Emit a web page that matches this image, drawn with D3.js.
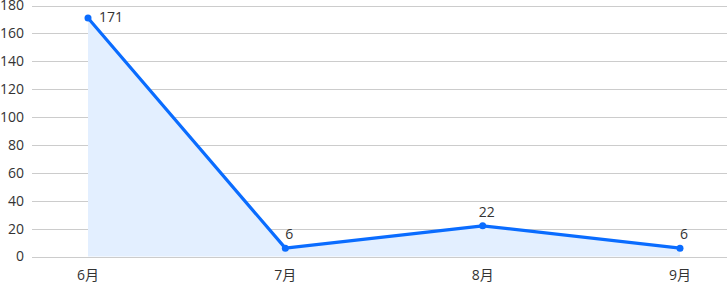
<!DOCTYPE html>
<html>
<head>
<meta charset="utf-8">
<script src="https://cdn.jsdelivr.net/npm/d3@7/dist/d3.min.js"></script>
<style>
  body { margin: 0; background: #fff; }
  svg text { font-family: "Open Sans", "Noto Sans CJK SC", sans-serif; font-size: 14px; fill: #333; }
</style>
</head>
<body>
<div id="chart"></div>
<script>
// 数据
var months = ["6月", "7月", "8月", "9月"];
var counts = [171, 6, 22, 6];
var yTicks = [0, 20, 40, 60, 80, 100, 120, 140, 160, 180];

var width = 727, height = 283;

var svg = d3.select("#chart").append("svg")
  .attr("width", width)
  .attr("height", height);

var xScale = d3.scalePoint()
  .domain(months)
  .range([88, 680]);

var yScale = d3.scaleLinear()
  .domain([0, 180])
  .range([256.5, 5.5]);

// 网格线
svg.append("g").selectAll("line")
  .data(yTicks)
  .enter()
  .append("line")
  .attr("x1", 32)
  .attr("x2", width)
  .attr("y1", function(d) { return Math.round(yScale(d)) + 0.5; })
  .attr("y2", function(d) { return Math.round(yScale(d)) + 0.5; })
  .attr("stroke", "#ccc")
  .attr("stroke-width", 1);

// y轴标签
svg.append("g").selectAll("text")
  .data(yTicks)
  .enter()
  .append("text")
  .attr("x", 24)
  .attr("y", function(d) { return yScale(d); })
  .attr("dy", "0.35em")
  .attr("text-anchor", "end")
  .text(function(d) { return d; });

// x轴标签
svg.append("g").selectAll("text")
  .data(months)
  .enter()
  .append("text")
  .attr("x", function(d) { return xScale(d); })
  .attr("y", 280)
  .attr("text-anchor", "middle")
  .text(function(d) { return d; });

var pts = months.map(function(m, i) { return { m: m, v: counts[i] }; });

// 面积
var area = d3.area()
  .x(function(d) { return xScale(d.m); })
  .y0(yScale(0))
  .y1(function(d) { return yScale(d.v); });

svg.append("path")
  .datum(pts)
  .attr("d", area)
  .attr("fill", "#e3efff");

// 折线
var line = d3.line()
  .x(function(d) { return xScale(d.m); })
  .y(function(d) { return yScale(d.v); });

svg.append("path")
  .datum(pts)
  .attr("d", line)
  .attr("fill", "none")
  .attr("stroke", "#0a6cff")
  .attr("stroke-width", 3.2)
  .attr("stroke-linejoin", "round");

svg.append("g").selectAll("circle")
  .data(pts)
  .enter()
  .append("circle")
  .attr("cx", function(d) { return xScale(d.m); })
  .attr("cy", function(d) { return yScale(d.v); })
  .attr("r", 3.5)
  .attr("fill", "#0a6cff");

// 数值标签
svg.append("g").selectAll("text")
  .data(pts)
  .enter()
  .append("text")
  .attr("x", function(d, i) { return i === 0 ? xScale(d.m) + 11 : xScale(d.m) + 4; })
  .attr("y", function(d, i) { return i === 0 ? yScale(d.v) + 4 : yScale(d.v) - 9; })
  .attr("text-anchor", function(d, i) { return i === 0 ? "start" : "middle"; })
  .text(function(d) { return d.v; });
</script>
</body>
</html>
